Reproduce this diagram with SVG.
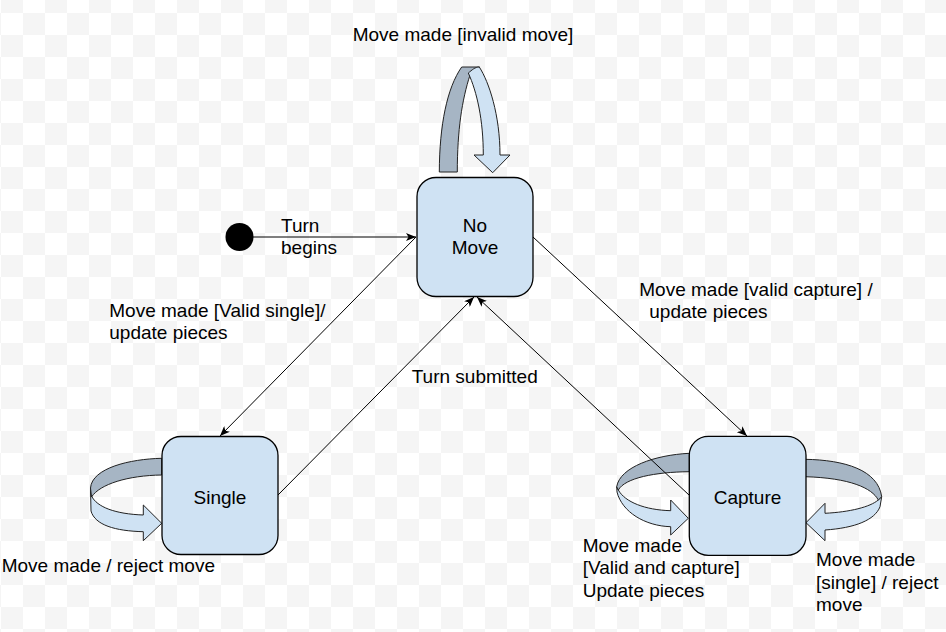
<svg xmlns="http://www.w3.org/2000/svg" width="946" height="632" viewBox="0 0 946 632">
<defs>
<pattern id="checker" x="1" y="13" width="44" height="44" patternUnits="userSpaceOnUse">
<rect x="0" y="0" width="44" height="44" fill="#ffffff"/>
<rect x="22" y="0" width="22" height="22" fill="#f5f5f5"/>
<rect x="0" y="22" width="22" height="22" fill="#f5f5f5"/>
</pattern>
<marker id="arr" viewBox="0 0 10 8" refX="10" refY="4" markerWidth="10" markerHeight="8" markerUnits="userSpaceOnUse" orient="auto">
<path d="M0,0 L10,4 L0,8 L2.5,4 Z" fill="#000"/>
</marker>
<style>
.state{fill:#cfe2f3;stroke:#000;stroke-width:1.3}
.dark{fill:#a6b5c4;stroke:#222;stroke-width:1}
.light{fill:#cfe2f3;stroke:#222;stroke-width:1}
.edge{fill:none;stroke:#000;stroke-width:1;marker-end:url(#arr)}
text{font-family:"Liberation Sans",Arial,sans-serif;font-size:19px;fill:#000}
.c{text-anchor:middle}
</style>
</defs>
<rect x="0" y="0" width="946" height="632" fill="url(#checker)"/>

<g id="loop-nomove">
<path class="dark" d="M439.3,172 C439.5,125 447,88 461.7,67 L479.3,67 L470,75 C462,100 457.3,130 457.3,172 Z"/>
<path class="light" d="M479.3,67 C489,82 500,115 500,155 L510,155 L492.7,172.7 L474,155 L483.3,155 C483.3,120 477,92 468.3,73 C472,70 475,67 479.3,67 Z"/>
</g>
<g id="loop-single">
<path class="light" d="M90.5,488 L91,511 C95,525 115,531 143.3,531.7 L143.3,540.7 L161.7,523.3 L143.3,505 L143.3,515 C115,514 97,507 91.5,496 Z"/>
<path class="dark" d="M161.7,458.3 C130,459 92,468 90.5,488 L91.5,497 C100,484 128,475.5 161.7,475 Z"/>
</g>
<g id="loop-capture-left">
<path class="light" d="M616.7,486.7 L617,492 C622,512 645,526 670.7,526.7 L670.7,535 L688.3,518.3 L670.7,500 L670.7,510.7 C645,510 625,502 618.3,490 Z"/>
<path class="dark" d="M689.3,453.3 C655,455 620,467 616.7,486.7 L618.3,490 C625,478 655,472 689.3,471.7 Z"/>
</g>
<g id="loop-capture-right">
<path class="light" d="M881.7,496.7 L880,506.7 C875,520 855,528 825,530 L825,540.7 L806,522.7 L825,503.3 L825,513.3 C850,512 870,507 878.3,500 Z"/>
<path class="dark" d="M805,459.3 C845,460 878,470 881.7,496.7 L878.3,500 C872,488 850,478 805,476.7 Z"/>
</g>

<g id="connectors">
<line class="edge" x1="253" y1="237" x2="416" y2="237"/>
<line class="edge" x1="416" y1="237" x2="220" y2="436"/>
<line class="edge" x1="278" y1="495" x2="474" y2="297"/>
<line class="edge" x1="689" y1="495" x2="477" y2="297"/>
<line class="edge" x1="533" y1="237" x2="747" y2="436"/>
</g>

<g id="start">
<circle cx="239.5" cy="237" r="14" fill="#000"/>
</g>
<g id="nomove">
<rect class="state" x="417" y="177.5" width="116" height="119" rx="19"/>
<text class="c" x="475" y="231.7">No</text>
<text class="c" x="475" y="254.3">Move</text>
</g>
<g id="single">
<rect class="state" x="162" y="436.5" width="116" height="118" rx="19"/>
<text class="c" x="220" y="504">Single</text>
</g>
<g id="capture">
<rect class="state" x="689.3" y="436.3" width="116.7" height="119" rx="19"/>
<text class="c" x="747.5" y="503.5">Capture</text>
</g>

<g id="labels">
<text x="352.7" y="41">Move made [invalid move]</text>
<text x="281" y="231.7">Turn</text>
<text x="281" y="254.3">begins</text>
<text x="109.3" y="316.7">Move made [Valid single]/</text>
<text x="109.3" y="339">update pieces</text>
<text x="411.7" y="383.3">Turn submitted</text>
<text x="639.3" y="296">Move made [valid capture] /</text>
<text x="649.3" y="318.3">update pieces</text>
<text x="1.7" y="571.5">Move made / reject move</text>
<text x="582.7" y="551.7">Move made</text>
<text x="582.7" y="574.3">[Valid and capture]</text>
<text x="582.7" y="596.5">Update pieces</text>
<text x="816" y="565.7">Move made</text>
<text x="816" y="588.5">[single] / reject</text>
<text x="816" y="611">move</text>
</g>
</svg>
